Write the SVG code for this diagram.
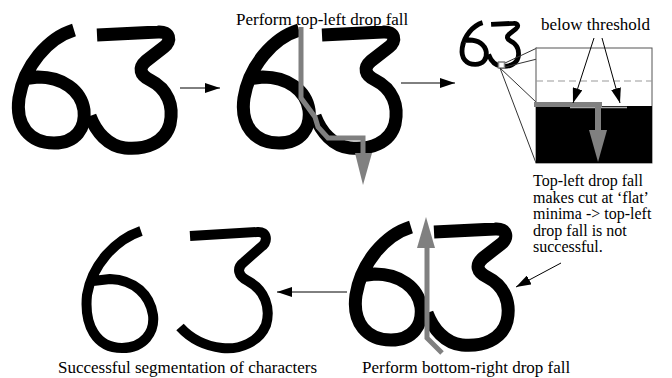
<svg xmlns="http://www.w3.org/2000/svg" xmlns:xlink="http://www.w3.org/1999/xlink" width="672" height="378" viewBox="0 0 672 378">
<style>
.ink{fill:none;stroke:#000;stroke-linecap:butt;stroke-linejoin:round}
.lbl{font-family:"Liberation Serif","Times New Roman",serif;font-size:17px;fill:#000}
.note{font-family:"Liberation Serif","Times New Roman",serif;font-size:16px;fill:#000}
.con{stroke:#000;stroke-width:1;fill:none}
.fall{fill:none;stroke:#808080;stroke-width:5;stroke-linejoin:miter}
</style>
<defs>
<marker id="ah" markerUnits="userSpaceOnUse" markerWidth="16" markerHeight="10" refX="15" refY="5" orient="auto">
<path d="M0,0 L15,5 L0,10 Z" fill="#000"/>
</marker>
<g id="g63">
<path class="ink" stroke-width="13" d="M74,30 C48,38 24,66 19,98 C15,126 30,143 54,143 C76,143 86,128 84,110 C81,90 62,77 38,77 L22,79"/>
<path class="ink" stroke-width="13" d="M97,35 L158,32 C170,31 172,41 164,47 L146,61 C138,68 140,75 150,80 C168,89 174,106 170,124 C165,143 145,150 125,148 C108,146 96,132 90,116"/>
</g>
</defs>
<g id="n1"><use xlink:href="#g63"/></g>
<g id="n2">
<use xlink:href="#g63" transform="translate(225,0)"/>
<polyline class="fall" points="301,27 301,98 315,117 318,127 328,138 363,138 363,154"/>
<polygon points="355,153 372,153 363,185" fill="#808080"/>
<text class="lbl" x="236" y="25">Perform top-left drop fall</text>
</g>
<g id="n3">
<use xlink:href="#g63" transform="translate(455.2,11.5) scale(0.37)"/>
<rect x="498.5" y="62" width="6" height="6" fill="#fff" stroke="#808080" stroke-width="1.5"/>
<line x1="505" y1="63" x2="537" y2="48" stroke="#333" stroke-width="1"/>
<line x1="505" y1="67" x2="537" y2="59" stroke="#333" stroke-width="1"/>
<line x1="500" y1="68" x2="536" y2="102" stroke="#333" stroke-width="1"/>
<line x1="500" y1="68" x2="536" y2="163" stroke="#333" stroke-width="1"/>
<rect x="536" y="48" width="116" height="115" fill="#fff" stroke="#555" stroke-width="1"/>
<rect x="536" y="106" width="116" height="57" fill="#000"/>
<line x1="536" y1="81" x2="652" y2="81" stroke="#999" stroke-width="1" stroke-dasharray="7,4"/>
<line x1="570" y1="107.5" x2="627" y2="107.5" stroke="#aaa" stroke-width="1.5"/>
<rect x="534" y="102" width="68" height="5" fill="#808080"/>
<rect x="595" y="107" width="6" height="24" fill="#808080"/>
<polygon points="589,130 607,130 598,162" fill="#808080"/>
<text class="lbl" x="541" y="30">below threshold</text>
<text class="note" x="533"><tspan x="533" y="186">Top-left drop fall</tspan><tspan x="533" y="202.5">makes cut at ‘flat’</tspan><tspan x="533" y="219">minima -&gt; top-left</tspan><tspan x="533" y="235.5">drop fall is not</tspan><tspan x="533" y="252">successful.</tspan></text>
</g>
<g id="n4">
<use xlink:href="#g63" transform="translate(337,197)"/>
<polyline class="fall" points="442,353 427,338 427,247"/>
<polygon points="417,248 435,248 426,217" fill="#808080"/>
<text class="lbl" x="362" y="373">Perform bottom-right drop fall</text>
</g>
<g id="n5">
<path class="ink" stroke-width="10" d="M141,231 C115,240 92,265 87,295 C84,325 96,348 122,348 C144,348 155,332 153,315 C150,295 135,280 110,279 L93,281"/>
<path class="ink" stroke-width="10" d="M190,236 L257,232 C268,231 268,242 261,247 L244,262 C236,268 238,276 248,281 C265,290 271,308 266,325 C259,342 240,350 222,348 C205,346 190,338 180,327"/>
<text class="lbl" x="58" y="373">Successful segmentation of characters</text>
</g>
<g id="connectors">
<line class="con" x1="180" y1="88" x2="220" y2="88" marker-end="url(#ah)"/>
<line class="con" x1="401" y1="83" x2="455" y2="83" marker-end="url(#ah)"/>
<line class="con" x1="594" y1="38" x2="573" y2="103" marker-end="url(#ah)"/>
<line class="con" x1="602" y1="38" x2="620" y2="103" marker-end="url(#ah)"/>
<line class="con" x1="561" y1="263" x2="516" y2="287" marker-end="url(#ah)"/>
<line class="con" x1="347" y1="292" x2="277" y2="292" marker-end="url(#ah)"/>
</g>
</svg>
